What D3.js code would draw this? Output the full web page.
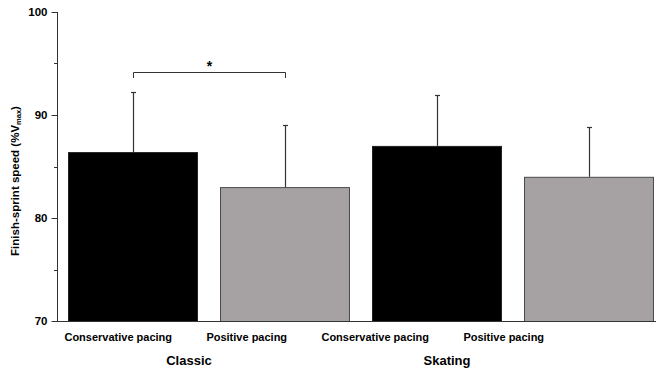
<!DOCTYPE html>
<html><head><meta charset="utf-8">
<script src="https://cdn.jsdelivr.net/npm/d3@7"></script>
<style>body{margin:0;background:#fff}svg{display:block}</style>
</head><body>
<svg id="c" width="656" height="371"></svg>
<script>
const categories = ["Conservative pacing","Positive pacing","Conservative pacing","Positive pacing"];
const groups = ["Classic","Skating"];
const means = [86.4, 83.0, 87.0, 84.0];
const sds = [5.8, 6.0, 4.9, 4.8];
const fills = ["#000000","#a6a2a3","#000000","#a6a2a3"];
const yTicks = [70,80,90,100];
const yMinor = [75,85,95];

const svg = d3.select("#c");
const font = "Liberation Sans, Arial, sans-serif";
const y = d3.scaleLinear().domain([70,100]).range([321,12]);
const x = d3.scaleBand().domain(d3.range(4)).range([57,665]).paddingInner(0.145).paddingOuter(0.0725);
const xl = d3.scaleBand().domain(d3.range(4)).range([54,568]);
const xg = d3.scaleBand().domain(d3.range(2)).range([60,576]);

// bars
svg.selectAll("rect.bar").data(means).join("rect")
  .attr("x",(d,i)=>x(i)+0.5).attr("width",x.bandwidth()-1)
  .attr("y",d=>y(d)+0.5).attr("height",d=>y(70)-y(d))
  .attr("fill",(d,i)=>fills[i]).attr("stroke",(d,i)=>i%2?"#4a4a4a":"#222").attr("stroke-width",1);

// error bars
const eb = svg.selectAll("g.eb").data(means).join("g");
eb.append("line").attr("x1",(d,i)=>Math.round(x(i)+x.bandwidth()/2)+0.5).attr("x2",(d,i)=>Math.round(x(i)+x.bandwidth()/2)+0.5)
  .attr("y1",d=>y(d)).attr("y2",(d,i)=>y(d+sds[i])).attr("stroke","#333").attr("stroke-width",1.2);
eb.append("line").attr("x1",(d,i)=>Math.round(x(i)+x.bandwidth()/2)-2).attr("x2",(d,i)=>Math.round(x(i)+x.bandwidth()/2)+3)
  .attr("y1",(d,i)=>Math.round(y(d+sds[i]))+0.5).attr("y2",(d,i)=>Math.round(y(d+sds[i]))+0.5).attr("stroke","#333").attr("stroke-width",1.2);

// y axis
const yAxis = d3.axisLeft(y).tickValues(yTicks).tickSize(6).tickPadding(4).tickFormat(d3.format("d"));
const ga = svg.append("g").attr("transform","translate(57.5,0)").call(yAxis);
ga.select(".domain").attr("d","M0,"+y(100)+"V"+y(70)).attr("stroke","#333");
ga.selectAll(".tick line").attr("stroke","#333");
ga.selectAll(".tick text").attr("font-family",font).attr("font-weight","bold").attr("font-size",11.5).attr("fill","#000");
svg.append("g").selectAll("line").data(yMinor).join("line")
  .attr("x1",54).attr("x2",57.5).attr("y1",d=>Math.round(y(d))+0.5).attr("y2",d=>Math.round(y(d))+0.5).attr("stroke","#333");

// x axis line
svg.append("line").attr("x1",57).attr("x2",656).attr("y1",321.5).attr("y2",321.5).attr("stroke","#333");

// category labels
svg.selectAll("text.cat").data(categories).join("text")
  .attr("x",(d,i)=>xl(i)+xl.bandwidth()/2).attr("y",341)
  .attr("text-anchor","middle").attr("font-family",font).attr("font-weight","bold").attr("font-size",11).text(d=>d);
svg.selectAll("text.grp").data(groups).join("text")
  .attr("x",(d,i)=>xg(i)+xg.bandwidth()/2).attr("y",365)
  .attr("text-anchor","middle").attr("font-family",font).attr("font-weight","bold").attr("font-size",13).text(d=>d);

// y label
const yl = svg.append("text").attr("transform","translate(19,181) rotate(-90)")
  .attr("text-anchor","middle").attr("font-family",font).attr("font-weight","bold").attr("font-size",11.5);
yl.append("tspan").text("Finish-sprint speed (%V");
yl.append("tspan").attr("font-size",7.5).attr("dy",2).text("max");
yl.append("tspan").attr("dy",-2).text(")");

// significance bracket
const bx1 = Math.round(x(0)+x.bandwidth()/2)+0.5, bx2 = Math.round(x(1)+x.bandwidth()/2)+0.5;
svg.append("path").attr("d",`M${bx1},78V72.5H${bx2}V78`).attr("fill","none").attr("stroke","#333");
svg.append("text").attr("x",(bx1+bx2)/2).attr("y",71).attr("text-anchor","middle")
  .attr("font-family",font).attr("font-weight","bold").attr("font-size",14).text("*");
</script>
</body></html>
